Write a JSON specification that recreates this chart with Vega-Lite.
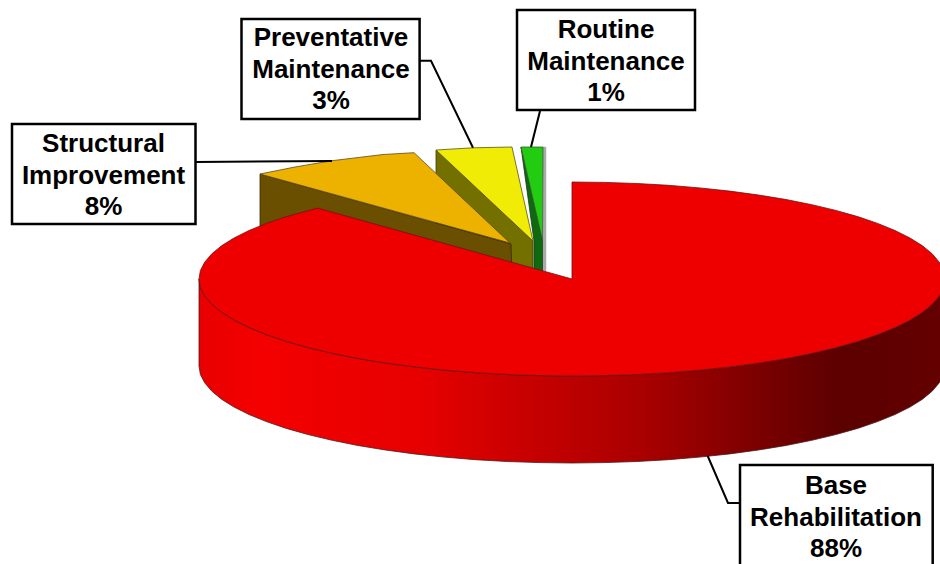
{
"$schema":"https://vega.github.io/schema/vega-lite/v6.json",
"width":940,"height":564,"padding":0,"autosize":"none","background":"white",
"config":{"view":{"stroke":null}},
"datasets":{
"shadow":[{"i":0,"x":543,"y":147},{"i":1,"x":546,"y":147},{"i":2,"x":546,"y":271},{"i":3,"x":543,"y":271},{"i":4,"x":543,"y":147}],
"greenSide":[{"i":0,"x":521,"y":147},{"i":1,"x":542.5,"y":240},{"i":2,"x":542.5,"y":275},{"i":3,"x":534,"y":275},{"i":4,"x":534,"y":241},{"i":5,"x":521,"y":147}],
"greenTop":[{"i":0,"x":521,"y":147},{"i":1,"x":543,"y":147},{"i":2,"x":542.5,"y":240},{"i":3,"x":521,"y":147}],
"yellowSide":[{"i":0,"x":436,"y":150},{"i":1,"x":533,"y":241},{"i":2,"x":533,"y":300},{"i":3,"x":436,"y":237},{"i":4,"x":436,"y":150}],
"yellowTop":[{"i":0,"x":436,"y":150},{"i":1,"x":473,"y":147.8},{"i":2,"x":512,"y":147},{"i":3,"x":533,"y":241},{"i":4,"x":436,"y":150}],
"orangeSide":[{"i":0,"x":260,"y":174},{"i":1,"x":511,"y":244},{"i":2,"x":512.5,"y":300},{"i":3,"x":260,"y":261},{"i":4,"x":260,"y":174}],
"orangeTop":[{"i":0,"x":260,"y":174},{"i":1,"x":295,"y":167},{"i":2,"x":332,"y":160.7},{"i":3,"x":383,"y":154.5},{"i":4,"x":414,"y":152.7},{"i":5,"x":510,"y":243},{"i":6,"x":260,"y":174}],
"redWall":[{"i":0,"x":945,"y":279},{"i":1,"x":943.6,"y":287.5},{"i":2,"x":939.3,"y":295.8},{"i":3,"x":932.3,"y":304.1},{"i":4,"x":922.5,"y":312.2},{"i":4.5,"x":910,"y":320},{"i":5,"x":895,"y":327.5},{"i":5.5,"x":877.6,"y":334.6},{"i":6,"x":857.7,"y":341.4},{"i":6.5,"x":835.8,"y":347.6},{"i":7,"x":811.8,"y":353.3},{"i":7.5,"x":786,"y":358.5},{"i":8,"x":758.5,"y":363},{"i":8.5,"x":729.6,"y":366.9},{"i":9,"x":699.6,"y":370.1},{"i":9.5,"x":668.5,"y":372.7},{"i":10,"x":636.8,"y":374.5},{"i":10.5,"x":604.5,"y":375.6},{"i":11,"x":572,"y":376},{"i":11.5,"x":539.5,"y":375.6},{"i":12,"x":507.2,"y":374.5},{"i":12.5,"x":475.5,"y":372.7},{"i":13,"x":444.4,"y":370.1},{"i":13.5,"x":414.4,"y":366.9},{"i":14,"x":385.5,"y":363},{"i":14.5,"x":358,"y":358.5},{"i":15,"x":332.2,"y":353.3},{"i":15.5,"x":308.2,"y":347.6},{"i":16,"x":286.3,"y":341.4},{"i":16.5,"x":266.4,"y":334.6},{"i":17,"x":249,"y":327.5},{"i":17.5,"x":234,"y":320},{"i":18,"x":221.5,"y":312.2},{"i":19,"x":211.7,"y":304.1},{"i":20,"x":204.7,"y":295.8},{"i":21,"x":200.4,"y":287.5},{"i":22,"x":199,"y":279},{"i":23,"x":199,"y":366},{"i":24,"x":200.4,"y":374.5},{"i":25,"x":204.7,"y":382.8},{"i":26,"x":211.7,"y":391.1},{"i":27,"x":221.5,"y":399.2},{"i":27.5,"x":234,"y":407},{"i":28,"x":249,"y":414.5},{"i":28.5,"x":266.4,"y":421.6},{"i":29,"x":286.3,"y":428.4},{"i":29.5,"x":308.2,"y":434.6},{"i":30,"x":332.2,"y":440.3},{"i":30.5,"x":358,"y":445.5},{"i":31,"x":385.5,"y":450},{"i":31.5,"x":414.4,"y":453.9},{"i":32,"x":444.4,"y":457.1},{"i":32.5,"x":475.5,"y":459.7},{"i":33,"x":507.2,"y":461.5},{"i":33.5,"x":539.5,"y":462.6},{"i":34,"x":572,"y":463},{"i":34.5,"x":604.5,"y":462.6},{"i":35,"x":636.8,"y":461.5},{"i":35.5,"x":668.5,"y":459.7},{"i":36,"x":699.6,"y":457.1},{"i":36.5,"x":729.6,"y":453.9},{"i":37,"x":758.5,"y":450},{"i":37.5,"x":786,"y":445.5},{"i":38,"x":811.8,"y":440.3},{"i":38.5,"x":835.8,"y":434.6},{"i":39,"x":857.7,"y":428.4},{"i":39.5,"x":877.6,"y":421.6},{"i":40,"x":895,"y":414.5},{"i":40.5,"x":910,"y":407},{"i":41,"x":922.5,"y":399.2},{"i":42,"x":932.3,"y":391.1},{"i":43,"x":939.3,"y":382.8},{"i":44,"x":943.6,"y":374.5},{"i":45,"x":945,"y":366},{"i":46,"x":945,"y":279}],
"redFace":[{"i":0,"x":572,"y":182},{"i":0.5,"x":604.5,"y":182.4},{"i":1,"x":636.8,"y":183.5},{"i":1.5,"x":668.5,"y":185.3},{"i":2,"x":699.6,"y":187.9},{"i":2.5,"x":729.6,"y":191.1},{"i":3,"x":758.5,"y":195},{"i":3.5,"x":786,"y":199.5},{"i":4,"x":811.8,"y":204.7},{"i":4.5,"x":835.8,"y":210.4},{"i":5,"x":857.7,"y":216.6},{"i":5.5,"x":877.6,"y":223.4},{"i":6,"x":895,"y":230.5},{"i":6.5,"x":910,"y":238},{"i":7,"x":922.5,"y":245.8},{"i":8,"x":932.3,"y":253.9},{"i":9,"x":939.3,"y":262.2},{"i":10,"x":943.6,"y":270.5},{"i":11,"x":945,"y":279},{"i":12,"x":943.6,"y":287.5},{"i":13,"x":939.3,"y":295.8},{"i":14,"x":932.3,"y":304.1},{"i":15,"x":922.5,"y":312.2},{"i":15.5,"x":910,"y":320},{"i":16,"x":895,"y":327.5},{"i":16.5,"x":877.6,"y":334.6},{"i":17,"x":857.7,"y":341.4},{"i":17.5,"x":835.8,"y":347.6},{"i":18,"x":811.8,"y":353.3},{"i":18.5,"x":786,"y":358.5},{"i":19,"x":758.5,"y":363},{"i":19.5,"x":729.6,"y":366.9},{"i":20,"x":699.6,"y":370.1},{"i":20.5,"x":668.5,"y":372.7},{"i":21,"x":636.8,"y":374.5},{"i":21.5,"x":604.5,"y":375.6},{"i":22,"x":572,"y":376},{"i":22.5,"x":539.5,"y":375.6},{"i":23,"x":507.2,"y":374.5},{"i":23.5,"x":475.5,"y":372.7},{"i":24,"x":444.4,"y":370.1},{"i":24.5,"x":414.4,"y":366.9},{"i":25,"x":385.5,"y":363},{"i":25.5,"x":358,"y":358.5},{"i":26,"x":332.2,"y":353.3},{"i":26.5,"x":308.2,"y":347.6},{"i":27,"x":286.3,"y":341.4},{"i":27.5,"x":266.4,"y":334.6},{"i":28,"x":249,"y":327.5},{"i":28.5,"x":234,"y":320},{"i":29,"x":221.5,"y":312.2},{"i":30,"x":211.7,"y":304.1},{"i":31,"x":204.7,"y":295.8},{"i":32,"x":200.4,"y":287.5},{"i":33,"x":199,"y":279},{"i":34,"x":200.4,"y":270.5},{"i":35,"x":204.7,"y":262.2},{"i":36,"x":211.7,"y":253.9},{"i":37,"x":221.5,"y":245.8},{"i":37.5,"x":234,"y":238},{"i":38,"x":249,"y":230.5},{"i":38.5,"x":266.4,"y":223.4},{"i":39,"x":286.3,"y":216.6},{"i":40,"x":317.6,"y":208.1},{"i":41,"x":572,"y":279},{"i":42,"x":572,"y":182}],
"leaders":[{"g":"s","i":0,"x":196,"y":162},{"g":"s","i":1,"x":332,"y":161},{"g":"p","i":0,"x":420,"y":60.7},{"g":"p","i":1,"x":431,"y":60.7},{"g":"p","i":2,"x":473,"y":147.7},{"g":"r","i":0,"x":540,"y":111},{"g":"r","i":1,"x":531,"y":147},{"g":"b","i":0,"x":707.7,"y":456},{"g":"b","i":1,"x":728,"y":503},{"g":"b","i":2,"x":740,"y":503}],
"labels":[
{"name":"Structural Improvement","pct":8,"text":"Structural\nImprovement\n8%","x":103.5,"y":144,"x0":12,"x1":195.5,"y0":124,"y1":224},
{"name":"Preventative Maintenance","pct":3,"text":"Preventative\nMaintenance\n3%","x":331,"y":38,"x0":241.5,"x1":419.6,"y0":19,"y1":119},
{"name":"Routine Maintenance","pct":1,"text":"Routine\nMaintenance\n1%","x":606,"y":30,"x0":517,"x1":695,"y0":10,"y1":110},
{"name":"Base Rehabilitation","pct":88,"text":"Base\nRehabilitation\n88%","x":836,"y":486,"x0":740,"x1":932.7,"y0":465,"y1":580}
]
},
"encoding":{
"x":{"field":"x","type":"quantitative","scale":{"domain":[0,940],"nice":false,"zero":false},"axis":null},
"y":{"field":"y","type":"quantitative","scale":{"domain":[564,0],"nice":false,"zero":false},"axis":null}
},
"layer":[
{"data":{"name":"shadow"},"mark":{"type":"line","fill":"#aaaaaa","stroke":"#aaaaaa","strokeWidth":0.5},"encoding":{"order":{"field":"i"}}},
{"data":{"name":"greenSide"},"mark":{"type":"line","fill":"#0f6a0f","stroke":"#1b3a1b","strokeWidth":0.8},"encoding":{"order":{"field":"i"}}},
{"data":{"name":"greenTop"},"mark":{"type":"line","fill":"#22cc11","stroke":"#3a5a3a","strokeWidth":0.8},"encoding":{"order":{"field":"i"}}},
{"data":{"name":"yellowSide"},"mark":{"type":"line","fill":"#737000","stroke":"#3a3a10","strokeWidth":0.8},"encoding":{"order":{"field":"i"}}},
{"data":{"name":"yellowTop"},"mark":{"type":"line","fill":"#f0ec05","stroke":"#55551a","strokeWidth":0.8},"encoding":{"order":{"field":"i"}}},
{"data":{"name":"orangeSide"},"mark":{"type":"line","fill":"#6b4f00","stroke":"#33280a","strokeWidth":0.8},"encoding":{"order":{"field":"i"}}},
{"data":{"name":"orangeTop"},"mark":{"type":"line","fill":"#edb100","stroke":"#5a4a1a","strokeWidth":0.8},"encoding":{"order":{"field":"i"}}},
{"data":{"name":"redWall"},"mark":{"type":"line","clip":true,"strokeWidth":0.8,"stroke":"#4a1a1a","fill":{"gradient":"linear","x1":0,"x2":1,"y1":0,"y2":0,"stops":[{"offset":0,"color":"#e80000"},{"offset":0.08,"color":"#f40000"},{"offset":0.3,"color":"#e60000"},{"offset":0.42,"color":"#cc0000"},{"offset":0.6,"color":"#a80000"},{"offset":0.76,"color":"#780000"},{"offset":0.86,"color":"#5c0000"},{"offset":1,"color":"#640000"}]}},"encoding":{"order":{"field":"i"}}},
{"data":{"name":"redFace"},"mark":{"type":"line","clip":true,"fill":"#ee0000","stroke":"#6e1010","strokeWidth":0.8},"encoding":{"order":{"field":"i"}}},
{"data":{"name":"leaders"},"mark":{"type":"line","stroke":"#000000","strokeWidth":2},"encoding":{"detail":{"field":"g"},"order":{"field":"i"}}},
{"data":{"name":"labels"},"mark":{"type":"rect","clip":true,"fill":"white","stroke":"#000000","strokeWidth":2.5},"encoding":{"x":{"field":"x0","type":"quantitative"},"x2":{"field":"x1"},"y":{"field":"y0","type":"quantitative"},"y2":{"field":"y1"}}},
{"data":{"name":"labels"},"mark":{"type":"text","font":"Liberation Sans","fontWeight":"bold","fontSize":26,"lineBreak":"\n","lineHeight":31.5,"align":"center","baseline":"middle","color":"#000000"},"encoding":{"text":{"field":"text"}}}
]
}
